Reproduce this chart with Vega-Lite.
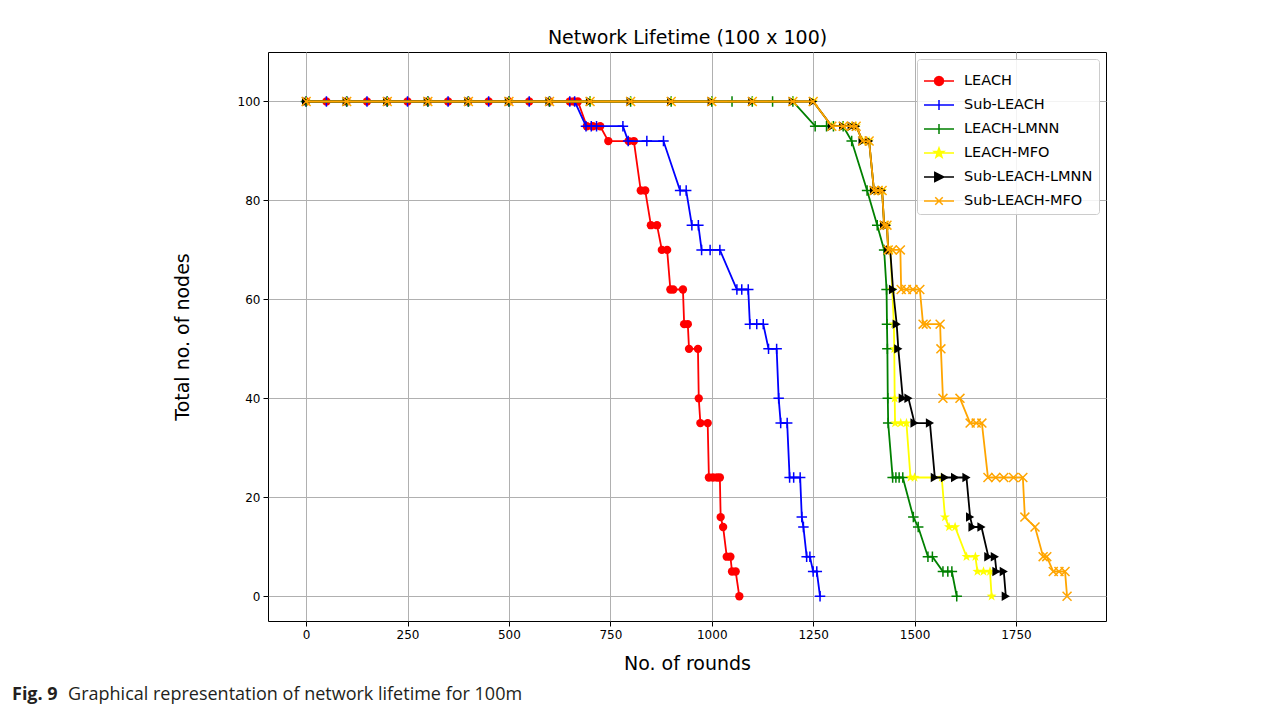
{
"$schema": "https://vega.github.io/schema/vega-lite/v6.json",
"width": 838, "height": 569,
"autosize": {"type": "none"},
"padding": {"left": 268, "top": 52, "right": 181, "bottom": 91},
"background": "white",
"title": {"text": "Fig. 9", "subtitle": "\u200b\u00a0\u00a0\u00a0\u00a0\u00a0\u00a0\u00a0\u00a0\u00a0\u00a0\u00a0\u00a0Graphical representation of network lifetime for 100m", "orient": "bottom", "anchor": "start", "frame": "group", "dx": -256, "offset": 13, "font": "Open Sans", "fontSize": 18, "fontWeight": "bold", "color": "#231f20", "subtitleFont": "Open Sans", "subtitleFontSize": 18, "subtitleFontWeight": "normal", "subtitleColor": "#231f20", "subtitlePadding": -18},
"data": {"values": [
{"s":"LEACH","x":0,"y":100},{"s":"LEACH","x":50,"y":100},{"s":"LEACH","x":100,"y":100},{"s":"LEACH","x":150,"y":100},{"s":"LEACH","x":200,"y":100},{"s":"LEACH","x":250,"y":100},{"s":"LEACH","x":300,"y":100},{"s":"LEACH","x":350,"y":100},{"s":"LEACH","x":400,"y":100},{"s":"LEACH","x":450,"y":100},{"s":"LEACH","x":500,"y":100},{"s":"LEACH","x":550,"y":100},{"s":"LEACH","x":600,"y":100},{"s":"LEACH","x":650,"y":100},{"s":"LEACH","x":660,"y":100},{"s":"LEACH","x":670,"y":100},
{"s":"LEACH","x":692,"y":95},{"s":"LEACH","x":707,"y":95},{"s":"LEACH","x":725,"y":95},{"s":"LEACH","x":745,"y":92},{"s":"LEACH","x":795,"y":92},{"s":"LEACH","x":808,"y":92},{"s":"LEACH","x":825,"y":82},{"s":"LEACH","x":836,"y":82},{"s":"LEACH","x":850,"y":75},{"s":"LEACH","x":865,"y":75},{"s":"LEACH","x":877,"y":70},{"s":"LEACH","x":890,"y":70},{"s":"LEACH","x":898,"y":62},{"s":"LEACH","x":905,"y":62},{"s":"LEACH","x":929,"y":62},{"s":"LEACH","x":932,"y":55},{"s":"LEACH","x":941,"y":55},{"s":"LEACH","x":944,"y":50},{"s":"LEACH","x":966,"y":50},{"s":"LEACH","x":968,"y":40},{"s":"LEACH","x":972,"y":35},{"s":"LEACH","x":990,"y":35},{"s":"LEACH","x":993,"y":24},{"s":"LEACH","x":1003,"y":24},{"s":"LEACH","x":1013,"y":24},{"s":"LEACH","x":1020,"y":24},{"s":"LEACH","x":1022,"y":16},{"s":"LEACH","x":1028,"y":14},{"s":"LEACH","x":1037,"y":8},{"s":"LEACH","x":1046,"y":8},{"s":"LEACH","x":1050,"y":5},{"s":"LEACH","x":1059,"y":5},{"s":"LEACH","x":1068,"y":0},
{"s":"Sub-LEACH","x":0,"y":100},{"s":"Sub-LEACH","x":50,"y":100},{"s":"Sub-LEACH","x":100,"y":100},{"s":"Sub-LEACH","x":150,"y":100},{"s":"Sub-LEACH","x":200,"y":100},{"s":"Sub-LEACH","x":250,"y":100},{"s":"Sub-LEACH","x":300,"y":100},{"s":"Sub-LEACH","x":350,"y":100},{"s":"Sub-LEACH","x":400,"y":100},{"s":"Sub-LEACH","x":450,"y":100},{"s":"Sub-LEACH","x":500,"y":100},{"s":"Sub-LEACH","x":550,"y":100},{"s":"Sub-LEACH","x":600,"y":100},{"s":"Sub-LEACH","x":650,"y":100},{"s":"Sub-LEACH","x":662,"y":100},
{"s":"Sub-LEACH","x":690,"y":95},{"s":"Sub-LEACH","x":703,"y":95},{"s":"Sub-LEACH","x":716,"y":95},{"s":"Sub-LEACH","x":781,"y":95},{"s":"Sub-LEACH","x":794,"y":92},{"s":"Sub-LEACH","x":840,"y":92},{"s":"Sub-LEACH","x":881,"y":92},{"s":"Sub-LEACH","x":922,"y":82},{"s":"Sub-LEACH","x":937,"y":82},{"s":"Sub-LEACH","x":951,"y":75},{"s":"Sub-LEACH","x":967,"y":75},{"s":"Sub-LEACH","x":975,"y":70},{"s":"Sub-LEACH","x":996,"y":70},{"s":"Sub-LEACH","x":1020,"y":70},{"s":"Sub-LEACH","x":1062,"y":62},{"s":"Sub-LEACH","x":1074,"y":62},{"s":"Sub-LEACH","x":1090,"y":62},{"s":"Sub-LEACH","x":1094,"y":55},{"s":"Sub-LEACH","x":1111,"y":55},{"s":"Sub-LEACH","x":1127,"y":55},{"s":"Sub-LEACH","x":1140,"y":50},{"s":"Sub-LEACH","x":1160,"y":50},{"s":"Sub-LEACH","x":1165,"y":40},{"s":"Sub-LEACH","x":1170,"y":35},{"s":"Sub-LEACH","x":1186,"y":35},{"s":"Sub-LEACH","x":1192,"y":24},{"s":"Sub-LEACH","x":1202,"y":24},{"s":"Sub-LEACH","x":1218,"y":24},{"s":"Sub-LEACH","x":1222,"y":16},{"s":"Sub-LEACH","x":1226,"y":14},{"s":"Sub-LEACH","x":1234,"y":8},{"s":"Sub-LEACH","x":1242,"y":8},{"s":"Sub-LEACH","x":1250,"y":5},{"s":"Sub-LEACH","x":1259,"y":5},{"s":"Sub-LEACH","x":1267,"y":0},
{"s":"LEACH-LMNN","x":0,"y":100},{"s":"LEACH-LMNN","x":100,"y":100},{"s":"LEACH-LMNN","x":200,"y":100},{"s":"LEACH-LMNN","x":300,"y":100},{"s":"LEACH-LMNN","x":400,"y":100},{"s":"LEACH-LMNN","x":500,"y":100},{"s":"LEACH-LMNN","x":600,"y":100},{"s":"LEACH-LMNN","x":700,"y":100},{"s":"LEACH-LMNN","x":800,"y":100},{"s":"LEACH-LMNN","x":900,"y":100},{"s":"LEACH-LMNN","x":1000,"y":100},{"s":"LEACH-LMNN","x":1050,"y":100},{"s":"LEACH-LMNN","x":1100,"y":100},{"s":"LEACH-LMNN","x":1150,"y":100},{"s":"LEACH-LMNN","x":1200,"y":100},
{"s":"LEACH-LMNN","x":1255,"y":95},{"s":"LEACH-LMNN","x":1283,"y":95},{"s":"LEACH-LMNN","x":1300,"y":95},{"s":"LEACH-LMNN","x":1324,"y":95},{"s":"LEACH-LMNN","x":1345,"y":92},{"s":"LEACH-LMNN","x":1383,"y":82},{"s":"LEACH-LMNN","x":1408,"y":75},{"s":"LEACH-LMNN","x":1425,"y":70},{"s":"LEACH-LMNN","x":1431,"y":62},{"s":"LEACH-LMNN","x":1432,"y":55},{"s":"LEACH-LMNN","x":1433,"y":50},{"s":"LEACH-LMNN","x":1434,"y":40},{"s":"LEACH-LMNN","x":1435,"y":35},{"s":"LEACH-LMNN","x":1446,"y":24},{"s":"LEACH-LMNN","x":1454,"y":24},{"s":"LEACH-LMNN","x":1462,"y":24},{"s":"LEACH-LMNN","x":1471,"y":24},{"s":"LEACH-LMNN","x":1497,"y":16},{"s":"LEACH-LMNN","x":1509,"y":14},{"s":"LEACH-LMNN","x":1533,"y":8},{"s":"LEACH-LMNN","x":1544,"y":8},{"s":"LEACH-LMNN","x":1570,"y":5},{"s":"LEACH-LMNN","x":1582,"y":5},{"s":"LEACH-LMNN","x":1592,"y":5},{"s":"LEACH-LMNN","x":1604,"y":0},
{"s":"LEACH-MFO","x":0,"y":100},{"s":"LEACH-MFO","x":100,"y":100},{"s":"LEACH-MFO","x":200,"y":100},{"s":"LEACH-MFO","x":300,"y":100},{"s":"LEACH-MFO","x":400,"y":100},{"s":"LEACH-MFO","x":500,"y":100},{"s":"LEACH-MFO","x":600,"y":100},{"s":"LEACH-MFO","x":700,"y":100},{"s":"LEACH-MFO","x":800,"y":100},{"s":"LEACH-MFO","x":900,"y":100},{"s":"LEACH-MFO","x":1000,"y":100},{"s":"LEACH-MFO","x":1100,"y":100},{"s":"LEACH-MFO","x":1200,"y":100},{"s":"LEACH-MFO","x":1250,"y":100},
{"s":"LEACH-MFO","x":1296,"y":95},{"s":"LEACH-MFO","x":1324,"y":95},{"s":"LEACH-MFO","x":1345,"y":95},{"s":"LEACH-MFO","x":1356,"y":95},{"s":"LEACH-MFO","x":1372,"y":92},{"s":"LEACH-MFO","x":1388,"y":92},{"s":"LEACH-MFO","x":1400,"y":82},{"s":"LEACH-MFO","x":1410,"y":82},{"s":"LEACH-MFO","x":1420,"y":82},{"s":"LEACH-MFO","x":1425,"y":75},{"s":"LEACH-MFO","x":1432,"y":75},{"s":"LEACH-MFO","x":1435,"y":70},{"s":"LEACH-MFO","x":1440,"y":70},{"s":"LEACH-MFO","x":1445,"y":62},{"s":"LEACH-MFO","x":1449,"y":55},{"s":"LEACH-MFO","x":1450,"y":50},{"s":"LEACH-MFO","x":1451,"y":40},{"s":"LEACH-MFO","x":1452,"y":35},{"s":"LEACH-MFO","x":1466,"y":35},{"s":"LEACH-MFO","x":1480,"y":35},{"s":"LEACH-MFO","x":1490,"y":24},{"s":"LEACH-MFO","x":1500,"y":24},{"s":"LEACH-MFO","x":1567,"y":24},{"s":"LEACH-MFO","x":1575,"y":16},{"s":"LEACH-MFO","x":1585,"y":14},{"s":"LEACH-MFO","x":1600,"y":14},{"s":"LEACH-MFO","x":1628,"y":8},{"s":"LEACH-MFO","x":1650,"y":8},{"s":"LEACH-MFO","x":1655,"y":5},{"s":"LEACH-MFO","x":1670,"y":5},{"s":"LEACH-MFO","x":1686,"y":5},{"s":"LEACH-MFO","x":1690,"y":0},
{"s":"Sub-LEACH-LMNN","x":0,"y":100},{"s":"Sub-LEACH-LMNN","x":100,"y":100},{"s":"Sub-LEACH-LMNN","x":200,"y":100},{"s":"Sub-LEACH-LMNN","x":300,"y":100},{"s":"Sub-LEACH-LMNN","x":400,"y":100},{"s":"Sub-LEACH-LMNN","x":500,"y":100},{"s":"Sub-LEACH-LMNN","x":600,"y":100},{"s":"Sub-LEACH-LMNN","x":700,"y":100},{"s":"Sub-LEACH-LMNN","x":800,"y":100},{"s":"Sub-LEACH-LMNN","x":900,"y":100},{"s":"Sub-LEACH-LMNN","x":1000,"y":100},{"s":"Sub-LEACH-LMNN","x":1100,"y":100},{"s":"Sub-LEACH-LMNN","x":1200,"y":100},{"s":"Sub-LEACH-LMNN","x":1250,"y":100},
{"s":"Sub-LEACH-LMNN","x":1296,"y":95},{"s":"Sub-LEACH-LMNN","x":1324,"y":95},{"s":"Sub-LEACH-LMNN","x":1345,"y":95},{"s":"Sub-LEACH-LMNN","x":1356,"y":95},{"s":"Sub-LEACH-LMNN","x":1372,"y":92},{"s":"Sub-LEACH-LMNN","x":1388,"y":92},{"s":"Sub-LEACH-LMNN","x":1400,"y":82},{"s":"Sub-LEACH-LMNN","x":1410,"y":82},{"s":"Sub-LEACH-LMNN","x":1420,"y":82},{"s":"Sub-LEACH-LMNN","x":1425,"y":75},{"s":"Sub-LEACH-LMNN","x":1432,"y":75},{"s":"Sub-LEACH-LMNN","x":1435,"y":70},{"s":"Sub-LEACH-LMNN","x":1440,"y":70},{"s":"Sub-LEACH-LMNN","x":1447,"y":62},{"s":"Sub-LEACH-LMNN","x":1456,"y":55},{"s":"Sub-LEACH-LMNN","x":1460,"y":50},{"s":"Sub-LEACH-LMNN","x":1471,"y":40},{"s":"Sub-LEACH-LMNN","x":1485,"y":40},{"s":"Sub-LEACH-LMNN","x":1500,"y":35},{"s":"Sub-LEACH-LMNN","x":1538,"y":35},{"s":"Sub-LEACH-LMNN","x":1550,"y":24},{"s":"Sub-LEACH-LMNN","x":1575,"y":24},{"s":"Sub-LEACH-LMNN","x":1600,"y":24},{"s":"Sub-LEACH-LMNN","x":1628,"y":24},{"s":"Sub-LEACH-LMNN","x":1637,"y":16},{"s":"Sub-LEACH-LMNN","x":1643,"y":14},{"s":"Sub-LEACH-LMNN","x":1665,"y":14},{"s":"Sub-LEACH-LMNN","x":1682,"y":8},{"s":"Sub-LEACH-LMNN","x":1698,"y":8},{"s":"Sub-LEACH-LMNN","x":1702,"y":5},{"s":"Sub-LEACH-LMNN","x":1720,"y":5},{"s":"Sub-LEACH-LMNN","x":1725,"y":0},
{"s":"Sub-LEACH-MFO","x":0,"y":100},{"s":"Sub-LEACH-MFO","x":100,"y":100},{"s":"Sub-LEACH-MFO","x":200,"y":100},{"s":"Sub-LEACH-MFO","x":300,"y":100},{"s":"Sub-LEACH-MFO","x":400,"y":100},{"s":"Sub-LEACH-MFO","x":500,"y":100},{"s":"Sub-LEACH-MFO","x":600,"y":100},{"s":"Sub-LEACH-MFO","x":700,"y":100},{"s":"Sub-LEACH-MFO","x":800,"y":100},{"s":"Sub-LEACH-MFO","x":900,"y":100},{"s":"Sub-LEACH-MFO","x":1000,"y":100},{"s":"Sub-LEACH-MFO","x":1100,"y":100},{"s":"Sub-LEACH-MFO","x":1200,"y":100},{"s":"Sub-LEACH-MFO","x":1250,"y":100},
{"s":"Sub-LEACH-MFO","x":1296,"y":95},{"s":"Sub-LEACH-MFO","x":1324,"y":95},{"s":"Sub-LEACH-MFO","x":1345,"y":95},{"s":"Sub-LEACH-MFO","x":1356,"y":95},{"s":"Sub-LEACH-MFO","x":1372,"y":92},{"s":"Sub-LEACH-MFO","x":1388,"y":92},{"s":"Sub-LEACH-MFO","x":1400,"y":82},{"s":"Sub-LEACH-MFO","x":1410,"y":82},{"s":"Sub-LEACH-MFO","x":1420,"y":82},{"s":"Sub-LEACH-MFO","x":1425,"y":75},{"s":"Sub-LEACH-MFO","x":1432,"y":75},{"s":"Sub-LEACH-MFO","x":1435,"y":70},{"s":"Sub-LEACH-MFO","x":1445,"y":70},{"s":"Sub-LEACH-MFO","x":1465,"y":70},{"s":"Sub-LEACH-MFO","x":1467,"y":62},{"s":"Sub-LEACH-MFO","x":1480,"y":62},{"s":"Sub-LEACH-MFO","x":1496,"y":62},{"s":"Sub-LEACH-MFO","x":1513,"y":62},{"s":"Sub-LEACH-MFO","x":1521,"y":55},{"s":"Sub-LEACH-MFO","x":1529,"y":55},{"s":"Sub-LEACH-MFO","x":1563,"y":55},{"s":"Sub-LEACH-MFO","x":1565,"y":50},{"s":"Sub-LEACH-MFO","x":1570,"y":40},{"s":"Sub-LEACH-MFO","x":1612,"y":40},{"s":"Sub-LEACH-MFO","x":1637,"y":35},{"s":"Sub-LEACH-MFO","x":1652,"y":35},{"s":"Sub-LEACH-MFO","x":1666,"y":35},{"s":"Sub-LEACH-MFO","x":1681,"y":24},{"s":"Sub-LEACH-MFO","x":1700,"y":24},{"s":"Sub-LEACH-MFO","x":1720,"y":24},{"s":"Sub-LEACH-MFO","x":1744,"y":24},{"s":"Sub-LEACH-MFO","x":1767,"y":24},{"s":"Sub-LEACH-MFO","x":1772,"y":16},{"s":"Sub-LEACH-MFO","x":1797,"y":14},{"s":"Sub-LEACH-MFO","x":1817,"y":8},{"s":"Sub-LEACH-MFO","x":1826,"y":8},{"s":"Sub-LEACH-MFO","x":1842,"y":5},{"s":"Sub-LEACH-MFO","x":1856,"y":5},{"s":"Sub-LEACH-MFO","x":1871,"y":5},{"s":"Sub-LEACH-MFO","x":1876,"y":0}
]},
"layer": [
{
"encoding": {
 "x": {"field": "x", "type": "quantitative", "scale": {"domain": [-94, 1972], "nice": false, "zero": false}, "axis": {"values": [0,250,500,750,1000,1250,1500,1750], "format": "d", "title": "No. of rounds", "titlePadding": 14}},
 "y": {"field": "y", "type": "quantitative", "scale": {"domain": [-5, 110], "nice": false, "zero": false}, "axis": {"values": [0,20,40,60,80,100], "title": "Total no. of nodes", "titlePadding": 45}}
},
"layer": [
 {"transform": [{"filter": {"field": "s", "equal": "LEACH"}}], "layer": [
   {"mark": {"type": "line", "color": "#ff0000", "strokeWidth": 1.8}},
   {"mark": {"type": "point", "shape": "circle", "filled": true, "color": "#ff0000", "size": 70, "opacity": 1}}
 ]},
 {"transform": [{"filter": {"field": "s", "equal": "Sub-LEACH"}}], "layer": [
   {"mark": {"type": "line", "color": "#0000ff", "strokeWidth": 1.8}},
   {"mark": {"type": "point", "shape": "M-1,0H1M0,-1V1", "filled": false, "color": "#0000ff", "size": 110, "strokeWidth": 1.5, "opacity": 1}}
 ]},
 {"transform": [{"filter": {"field": "s", "equal": "LEACH-LMNN"}}], "layer": [
   {"mark": {"type": "line", "color": "#008000", "strokeWidth": 1.8}},
   {"mark": {"type": "point", "shape": "M-1,0H1M0,-1V1", "filled": false, "color": "#008000", "size": 110, "strokeWidth": 1.5, "opacity": 1}}
 ]},
 {"transform": [{"filter": {"field": "s", "equal": "LEACH-MFO"}}], "layer": [
   {"mark": {"type": "line", "color": "#ffff00", "strokeWidth": 1.8}},
   {"mark": {"type": "point", "shape": "M0,-1L0.235,-0.324L0.951,-0.309L0.38,0.124L0.588,0.809L0,0.4L-0.588,0.809L-0.38,0.124L-0.951,-0.309L-0.235,-0.324Z", "filled": true, "color": "#ffff00", "size": 110, "opacity": 1}}
 ]},
 {"transform": [{"filter": {"field": "s", "equal": "Sub-LEACH-LMNN"}}], "layer": [
   {"mark": {"type": "line", "color": "#000000", "strokeWidth": 1.8}},
   {"mark": {"type": "point", "shape": "triangle-right", "filled": true, "color": "#000000", "size": 90, "opacity": 1}}
 ]},
 {"transform": [{"filter": {"field": "s", "equal": "Sub-LEACH-MFO"}}], "layer": [
   {"mark": {"type": "line", "color": "#ffa500", "strokeWidth": 1.8}},
   {"mark": {"type": "point", "shape": "M-1,-1L1,1M-1,1L1,-1", "filled": false, "color": "#ffa500", "size": 80, "strokeWidth": 1.5, "opacity": 1}}
 ]},
 {"transform": [{"filter": "datum.x < -1000"}],
  "mark": {"type": "point", "filled": false, "strokeWidth": 1.5},
  "encoding": {
   "shape": {"field": "s", "type": "nominal",
     "scale": {"domain": ["LEACH","Sub-LEACH","LEACH-LMNN","LEACH-MFO","Sub-LEACH-LMNN","Sub-LEACH-MFO"],
       "range": ["M-1,0H1M0.3,0L0.26,0.15L0.15,0.26L0,0.3L-0.15,0.26L-0.26,0.15L-0.3,0L-0.26,-0.15L-0.15,-0.26L0,-0.3L0.15,-0.26L0.26,-0.15Z", "M-1,0H1M0,-0.33V0.33", "M-1,0H1M0,-0.33V0.33", "M-1,0H1M0,-0.34L0.082,-0.113L0.323,-0.105L0.133,0.043L0.2,0.275L0,0.14L-0.2,0.275L-0.133,0.043L-0.323,-0.105L-0.082,-0.113Z", "M-1,0H1M-0.28,-0.3L0.32,0L-0.28,0.3Z", "M-1,0H1M-0.25,-0.25L0.25,0.25M-0.25,0.25L0.25,-0.25"]},
     "legend": {"title": null, "orient": "top-right", "offset": 7, "padding": 6, "rowPadding": -1.5, "labelOffset": 9, "symbolSize": 900, "symbolStrokeWidth": 1.5, "symbolOpacity": 1, "strokeColor": "#cccccc", "fillColor": "rgba(255,255,255,0.85)", "cornerRadius": 3, "labelFont": "DejaVu Sans", "labelFontSize": 14.5, "labelColor": "#000000"}},
   "fill": {"field": "s", "type": "nominal",
     "scale": {"domain": ["LEACH","Sub-LEACH","LEACH-LMNN","LEACH-MFO","Sub-LEACH-LMNN","Sub-LEACH-MFO"], "range": ["#ff0000","transparent","transparent","#ffff00","#000000","transparent"]},
     "legend": {"title": null, "orient": "top-right", "offset": 7, "padding": 6, "rowPadding": -1.5, "labelOffset": 9, "symbolSize": 900, "symbolStrokeWidth": 1.5, "symbolOpacity": 1, "strokeColor": "#cccccc", "fillColor": "rgba(255,255,255,0.85)", "cornerRadius": 3, "labelFont": "DejaVu Sans", "labelFontSize": 14.5, "labelColor": "#000000"}},
   "stroke": {"field": "s", "type": "nominal",
     "scale": {"domain": ["LEACH","Sub-LEACH","LEACH-LMNN","LEACH-MFO","Sub-LEACH-LMNN","Sub-LEACH-MFO"], "range": ["#ff0000","#0000ff","#008000","#ffff00","#000000","#ffa500"]},
     "legend": {"title": null, "orient": "top-right", "offset": 7, "padding": 6, "rowPadding": -1.5, "labelOffset": 9, "symbolSize": 900, "symbolStrokeWidth": 1.5, "symbolOpacity": 1, "strokeColor": "#cccccc", "fillColor": "rgba(255,255,255,0.85)", "cornerRadius": 3, "labelFont": "DejaVu Sans", "labelFontSize": 14.5, "labelColor": "#000000"}}
  }}
]
},
{"mark": {"type": "rule", "opacity": 0}, "encoding": {"x": {"field": "x", "type": "quantitative", "axis": {"orient": "top", "title": "Network Lifetime (100 x 100)", "labels": false, "ticks": false, "domain": false, "grid": false, "titlePadding": 5, "titleFontSize": 19}}}}
],
"resolve": {"axis": {"x": "independent"}},
"config": {
 "view": {"stroke": "#000000", "strokeWidth": 1},
 "axis": {"grid": true, "gridColor": "#b0b0b0", "gridWidth": 1, "gridOpacity": 1, "domain": false, "tickColor": "#000000", "tickSize": 5, "tickWidth": 1, "labelFont": "DejaVu Sans", "labelFontSize": 12, "labelColor": "#000000", "labelPadding": 3, "titleFont": "DejaVu Sans", "titleFontSize": 19, "titleFontWeight": "normal", "titleColor": "#000000"}
}
}
